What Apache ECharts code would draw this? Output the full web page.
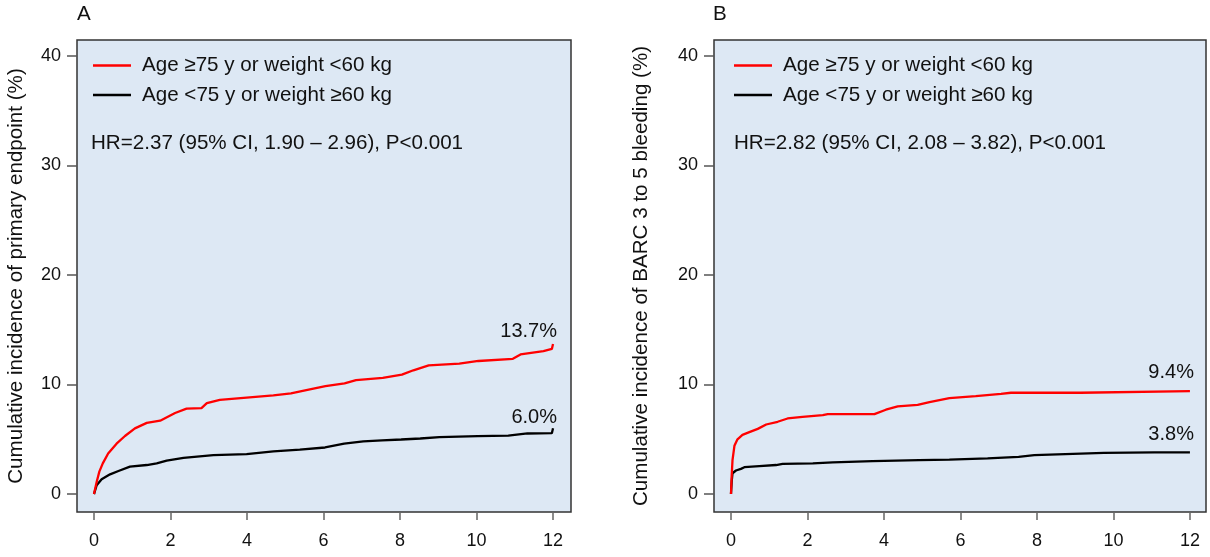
<!DOCTYPE html>
<html>
<head>
<meta charset="utf-8">
<title>Cumulative incidence by age / weight group</title>
<script src="https://cdn.jsdelivr.net/npm/echarts@6/dist/echarts.min.js"></script>
<style>
  html, body { margin: 0; padding: 0; background: #ffffff; }
  #chart { width: 1210px; height: 557px; }
</style>
</head>
<body>
<div id="chart"></div>
<script>
// Series names
const groupHigh = 'Age \u226575 y or weight <60 kg';
const groupLow = 'Age <75 y or weight \u226560 kg';

// Axis ticks (months on x, percent on y)
const xTicks = [0, 2, 4, 6, 8, 10, 12];
const yTicks = [0, 10, 20, 30, 40];

// Panel A: primary endpoint, [month, cumulative incidence %]
const primaryHigh = [
  [0, 0], [0.07, 1.1], [0.14, 2.05], [0.23, 2.8], [0.37, 3.7], [0.59, 4.6],
  [0.81, 5.3], [1.07, 6.0], [1.38, 6.5], [1.73, 6.7], [2.12, 7.4], [2.42, 7.8],
  [2.81, 7.85], [2.95, 8.3], [3.29, 8.6], [3.99, 8.8], [4.69, 9.0], [5.15, 9.2],
  [5.55, 9.5], [6.05, 9.85], [6.55, 10.1], [6.85, 10.4], [7.55, 10.6], [8.05, 10.9],
  [8.35, 11.3], [8.75, 11.75], [9.55, 11.9], [10.05, 12.15], [10.95, 12.35],
  [11.15, 12.75], [11.75, 13.05], [11.97, 13.25], [12, 13.7]
];
const primaryLow = [
  [0, 0], [0.07, 0.8], [0.2, 1.35], [0.42, 1.8], [0.64, 2.1], [0.94, 2.5],
  [1.38, 2.65], [1.64, 2.8], [1.9, 3.05], [2.34, 3.3], [3.12, 3.55], [3.99, 3.65],
  [4.69, 3.9], [5.38, 4.05], [6.04, 4.25], [6.54, 4.6], [7.04, 4.8], [7.53, 4.9],
  [8.03, 4.98], [8.53, 5.07], [9.03, 5.2], [10.03, 5.28], [10.83, 5.34],
  [11.33, 5.53], [11.97, 5.56], [12, 6.0]
];

// Panel B: BARC 3-5 bleeding, [month, cumulative incidence %]
const bleedingHigh = [
  [0, 0], [0.02, 1.8], [0.04, 3.1], [0.09, 4.4], [0.17, 5.0], [0.3, 5.4],
  [0.48, 5.65], [0.7, 5.95], [0.92, 6.35], [1.22, 6.6], [1.48, 6.9], [1.87, 7.05],
  [2.4, 7.2], [2.53, 7.3], [3.75, 7.3], [4.05, 7.7], [4.36, 8.0], [4.88, 8.15],
  [5.19, 8.4], [5.71, 8.75], [6.4, 8.95], [7.06, 9.15], [7.32, 9.25], [9.14, 9.25],
  [9.19, 9.4], [12, 9.4]
];
const bleedingLow = [
  [0, 0], [0.02, 1.2], [0.04, 1.9], [0.13, 2.15], [0.26, 2.3], [0.35, 2.45],
  [0.74, 2.55], [1.18, 2.65], [1.35, 2.75], [2.14, 2.8], [2.66, 2.9], [3.7, 3.0],
  [4.92, 3.1], [5.71, 3.15], [6.71, 3.25], [7.52, 3.4], [7.93, 3.55], [8.74, 3.65],
  [9.75, 3.75], [11.07, 3.8], [12, 3.8]
];

// Panel texts
const panelLetters = ['A', 'B'];
const yTitles = ['Cumulative incidence of primary endpoint (%)', 'Cumulative incidence of BARC 3 to 5 bleeding (%)'];
const hrTexts = ['HR=2.37 (95% CI, 1.90 \u2013 2.96), P<0.001', 'HR=2.82 (95% CI, 2.08 \u2013 3.82), P<0.001'];

const FONT = '"Liberation Sans", Arial, Helvetica, sans-serif';
const TEXT_SIZE = 20.6;
const TICK_SIZE = 18;
const RED = '#ff0000';
const BLACK = '#000000';

// Only the 12-month point carries a (label-only) symbol with its value
function withEndLabel(points, labelDistance) {
  const last = points.length - 1;
  return points.map((p, i) => {
    if (i !== last) return { value: p, symbol: 'none' };
    return {
      value: p,
      symbol: 'circle',
      symbolSize: 0.01,
      label: {
        show: true,
        position: 'top',
        align: 'right',
        distance: labelDistance,
        offset: [4, 0],
        formatter: (d) => d.value[1].toFixed(1) + '%',
        fontFamily: FONT,
        fontSize: 20,
        color: '#111'
      }
    };
  });
}

function lineSeries(name, color, points, idx, labelDistance) {
  return {
    name: name,
    type: 'line',
    xAxisIndex: idx,
    yAxisIndex: idx,
    data: withEndLabel(points, labelDistance),
    showSymbol: true,
    showAllSymbol: true,
    smooth: false,
    lineStyle: { color: color, width: 2.3 },
    itemStyle: { color: color },
    emphasis: { disabled: true },
    z: color === RED ? 3 : 2,
    animation: false
  };
}

const grids = [
  { left: 77, top: 40, width: 494, height: 472 },
  { left: 714, top: 40, width: 492, height: 472 }
];
const xRanges = [[-0.444, 12.47], [-0.444, 12.42]];
const nameGaps = [50, 62];

const option = {
  animation: false,
  backgroundColor: '#ffffff',
  textStyle: { fontFamily: FONT },
  grid: grids.map(g => Object.assign({
    show: true,
    backgroundColor: '#dde8f4',
    borderColor: '#333333',
    borderWidth: 1.5,
    containLabel: false
  }, g)),
  xAxis: [0, 1].map(i => ({
    type: 'value',
    gridIndex: i,
    position: 'bottom',
    min: xRanges[i][0],
    max: xRanges[i][1],
    axisLine: { show: false, onZero: false },
    splitLine: { show: false },
    axisTick: {
      show: true,
      customValues: xTicks,
      length: 8,
      inside: false,
      lineStyle: { color: '#666', width: 1.5 }
    },
    axisLabel: {
      show: true,
      customValues: xTicks,
      margin: 20,
      fontFamily: FONT,
      fontSize: TICK_SIZE,
      color: '#111'
    }
  })),
  yAxis: [0, 1].map(i => ({
    type: 'value',
    gridIndex: i,
    position: 'left',
    min: -1.64,
    max: 41.46,
    name: yTitles[i],
    nameLocation: 'middle',
    nameGap: nameGaps[i],
    nameTextStyle: { fontFamily: FONT, fontSize: TEXT_SIZE, color: '#111' },
    axisLine: { show: false, onZero: false },
    splitLine: { show: false },
    axisTick: {
      show: true,
      customValues: yTicks,
      length: 10,
      inside: false,
      lineStyle: { color: '#555', width: 1.5 }
    },
    axisLabel: {
      show: true,
      customValues: yTicks,
      margin: 16,
      fontFamily: FONT,
      fontSize: TICK_SIZE,
      color: '#111'
    }
  })),
  legend: [
    { left: 93, top: 55 },
    { left: 734, top: 55 }
  ].map(pos => Object.assign({
    orient: 'vertical',
    data: [
      { name: groupHigh, itemStyle: { color: RED } },
      { name: groupLow, itemStyle: { color: BLACK } }
    ],
    icon: 'rect',
    itemWidth: 38,
    itemHeight: 2.5,
    itemGap: 8.4,
    selectedMode: false,
    textStyle: { fontFamily: FONT, fontSize: TEXT_SIZE, color: '#111', padding: [0, 0, 0, 6] },
    padding: 0
  }, pos)),
  graphic: [
    { type: 'text', left: 77, top: 4, style: { text: panelLetters[0], font: TEXT_SIZE + 'px ' + FONT, fill: '#111' } },
    { type: 'text', left: 713, top: 4, style: { text: panelLetters[1], font: TEXT_SIZE + 'px ' + FONT, fill: '#111' } },
    { type: 'text', left: 91, top: 133, style: { text: hrTexts[0], font: TEXT_SIZE + 'px ' + FONT, fill: '#111' } },
    { type: 'text', left: 734, top: 133, style: { text: hrTexts[1], font: TEXT_SIZE + 'px ' + FONT, fill: '#111' } }
  ],
  series: [
    lineSeries(groupHigh, RED, primaryHigh, 0, 3),
    lineSeries(groupLow, BLACK, primaryLow, 0, 1),
    lineSeries(groupHigh, RED, bleedingHigh, 1, 9),
    lineSeries(groupLow, BLACK, bleedingLow, 1, 8)
  ]
};

const chart = echarts.init(document.getElementById('chart'), null, { renderer: 'canvas' });
chart.setOption(option);
</script>
</body>
</html>
